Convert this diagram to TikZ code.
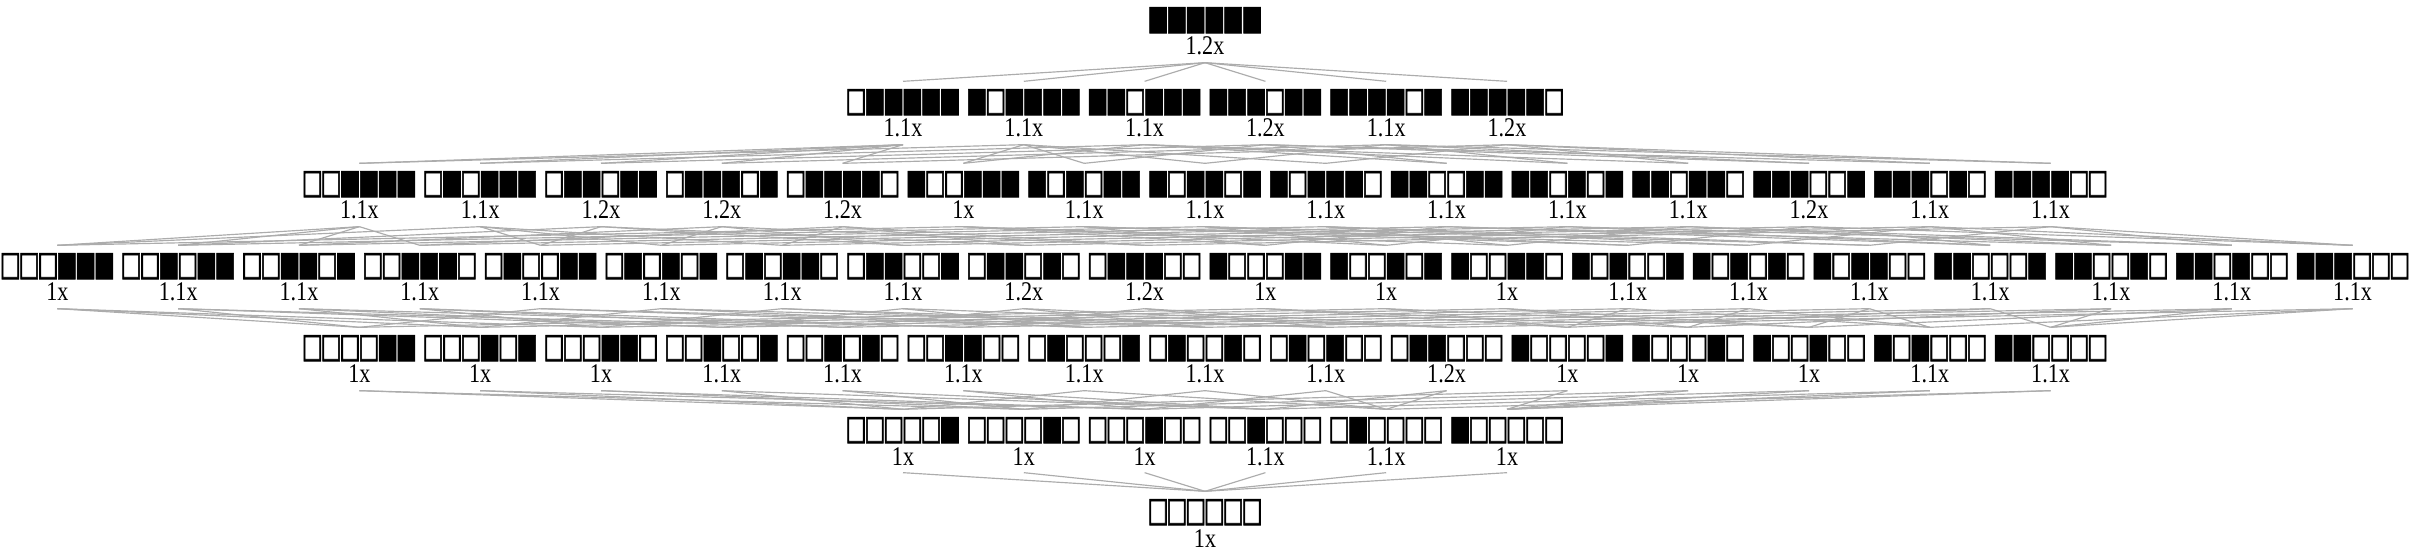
\documentclass[tikz,border=0pt]{standalone}
\usepackage{fontspec}
\setmainfont{Liberation Serif}
\newfontfamily\speedfont[FakeStretch=0.82]{Liberation Serif}
\newfontfamily\glyphfont[FakeBold=2.5]{DejaVu Sans}
\usepackage{graphicx}
\usepackage{tikz}
\newcommand{\bitglyph}[1]{\makebox[5.64pt]{\resizebox*{6.3pt}{7.8pt}{\glyphfont\ifnum#1=1 ■\else □\fi}}}
\newcommand{\bits}[1]{\expandafter\bitsloop#1\relax}
\def\bitsloop#1{\ifx#1\relax\else\bitglyph{#1}\expandafter\bitsloop\fi}
\tikzset{
  bitrow/.style={inner xsep=0pt,inner ysep=0.9pt,text height=7.8pt,text depth=0pt},
  speed/.style={anchor=base,font=\speedfont\fontsize{8.1}{9}\selectfont,inner ysep=2.1pt,text depth=0pt},
  link/.style={draw=gray!65,line width=0.35pt}
}
\newcommand{\latticerow}[3]{%
  \foreach \s/\spd [count=\i] in {#3}{%
    \pgfmathsetmacro{\xx}{1205+(\i-(#2+1)/2)*120.8}
    \pgfmathtruncatemacro{\val}{0b\s}
    \node[bitrow] (b\val) at (\xx,82*#1+16) {\bits{\s}};
    \node[speed] (l\val) at (\xx,82*#1+55) {\spd};
  }}
\begin{document}
\begin{tikzpicture}[x=0.3pt,y=-0.3pt]
  \useasboundingbox (0,0) rectangle (2410,554);
  \latticerow{0}{1}{111111/1.2x}
  \latticerow{1}{6}{011111/1.1x,101111/1.1x,110111/1.1x,111011/1.2x,111101/1.1x,111110/1.2x}
  \latticerow{2}{15}{001111/1.1x,010111/1.1x,011011/1.2x,011101/1.2x,011110/1.2x,100111/1x,101011/1.1x,101101/1.1x,
    101110/1.1x,110011/1.1x,110101/1.1x,110110/1.1x,111001/1.2x,111010/1.1x,111100/1.1x}
  \latticerow{3}{20}{000111/1x,001011/1.1x,001101/1.1x,001110/1.1x,010011/1.1x,010101/1.1x,010110/1.1x,011001/1.1x,
    011010/1.2x,011100/1.2x,100011/1x,100101/1x,100110/1x,101001/1.1x,101010/1.1x,101100/1.1x,110001/1.1x,
    110010/1.1x,110100/1.1x,111000/1.1x}
  \latticerow{4}{15}{000011/1x,000101/1x,000110/1x,001001/1.1x,001010/1.1x,001100/1.1x,010001/1.1x,010010/1.1x,
    010100/1.1x,011000/1.2x,100001/1x,100010/1x,100100/1x,101000/1.1x,110000/1.1x}
  \latticerow{5}{6}{000001/1x,000010/1x,000100/1x,001000/1.1x,010000/1.1x,100000/1x}
  \latticerow{6}{1}{000000/1x}
  \foreach \val in {0,...,63}{
    \foreach \b in {1,2,4,8,16,32}{
      \pgfmathtruncatemacro{\hit}{mod(floor(\val/\b),2)}
      \ifnum\hit=1
        \pgfmathtruncatemacro{\kid}{\val-\b}
        \draw[link] (l\val.south) -- (b\kid.north);
      \fi
    }}
\end{tikzpicture}
\end{document}
